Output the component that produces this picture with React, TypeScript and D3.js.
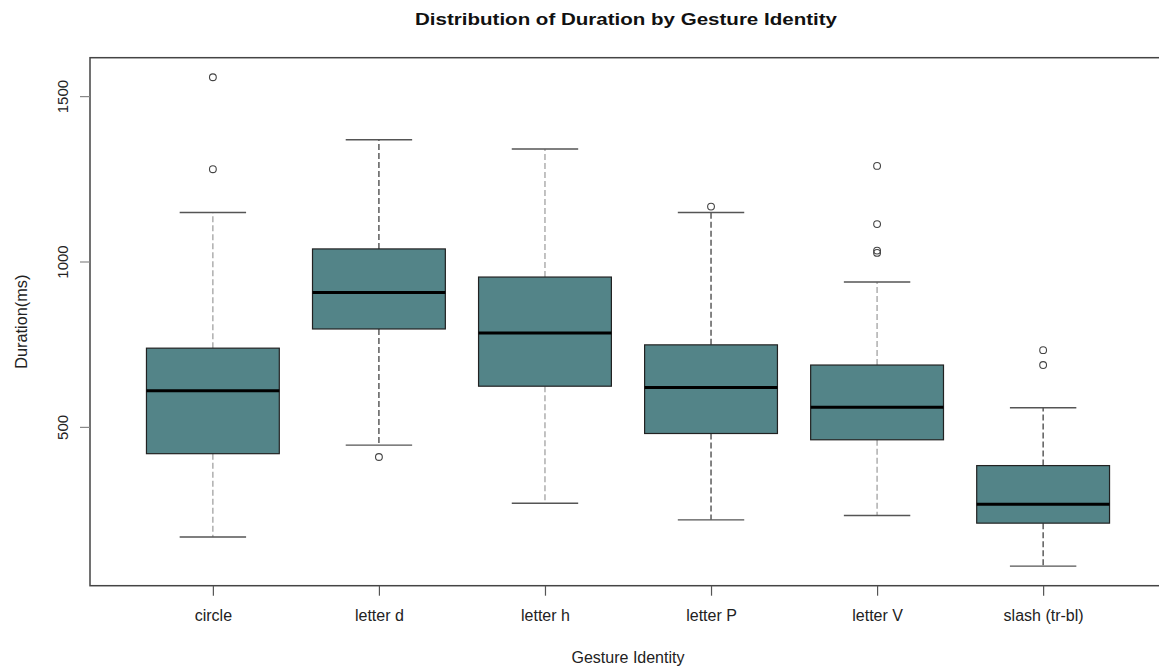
import { useEffect, useRef } from 'react'
import * as d3 from 'd3'

// box statistics (ms)
const categories = ['circle', 'letter d', 'letter h', 'letter P', 'letter V', 'slash (tr-bl)']
const lowerWhisker = [167, 445, 269, 219, 232, 79]
const q1 = [419, 796, 623, 480, 461, 209]
const median = [609, 906, 784, 619, 559, 266]
const q3 = [738, 1038, 953, 748, 687, 383]
const upperWhisker = [1148, 1368, 1340, 1148, 938, 558]
const outliers = [[1557, 1279], [409], [], [1166], [1289, 1113, 1033, 1026], [732, 687]]
const yTicks = [500, 1000, 1500]

const width = 1159
const height = 668

const BoxPlot = () => {
  const svgRef = useRef(null)

  useEffect(() => {
    const left = 90
    const right = 1166
    const top = 57.7
    const bottom = 585.7
    const font = 'Liberation Sans, Arial, sans-serif'

    // R style: data range extended by 4% on each side
    const all = [...lowerWhisker, ...upperWhisker, ...outliers.flat()]
    const lo = d3.min(all)
    const hi = d3.max(all)
    const pad = (hi - lo) * 0.04
    const yScale = d3.scaleLinear([lo - pad, hi + pad], [bottom, top])

    const n = categories.length
    const xScale = d3.scaleLinear([0.5 - n * 0.04, n + 0.5 + n * 0.04], [left, right])
    const halfW = xScale(1.4) - xScale(1)
    const capW = halfW / 2

    const svgEl = d3.select(svgRef.current)
    svgEl.selectAll('*').remove()

    const rows = categories.map((c, i) => ({
      c,
      i,
      x: xScale(i + 1),
      lw: lowerWhisker[i],
      q1: q1[i],
      med: median[i],
      q3: q3[i],
      uw: upperWhisker[i],
      out: outliers[i],
    }))

    const g = svgEl.append('g')

    // whiskers (dashed)
    const whiskers = rows.flatMap((d) => [
      { x: d.x, i: d.i, a: d.q3, b: d.uw },
      { x: d.x, i: d.i, a: d.q1, b: d.lw },
    ])
    g.selectAll('line.wh')
      .data(whiskers)
      .join('line')
      .attr('x1', (d) => d.x)
      .attr('x2', (d) => d.x)
      .attr('y1', (d) => yScale(d.a))
      .attr('y2', (d) => yScale(d.b))
      .attr('stroke', (d) => (d.i % 2 === 0 ? '#9a9a9a' : '#333'))
      .attr('stroke-width', 1.2)
      .attr('stroke-dasharray', '6,3')

    // whisker caps
    const caps = rows.flatMap((d) => [
      { x: d.x, v: d.uw },
      { x: d.x, v: d.lw },
    ])
    g.selectAll('line.cap')
      .data(caps)
      .join('line')
      .attr('x1', (d) => d.x - capW)
      .attr('x2', (d) => d.x + capW)
      .attr('y1', (d) => yScale(d.v))
      .attr('y2', (d) => yScale(d.v))
      .attr('stroke', '#555')
      .attr('stroke-width', 1.4)

    // boxes
    g.selectAll('rect.box')
      .data(rows)
      .join('rect')
      .attr('x', (d) => d.x - halfW)
      .attr('width', halfW * 2)
      .attr('y', (d) => yScale(d.q3))
      .attr('height', (d) => yScale(d.q1) - yScale(d.q3))
      .attr('fill', '#538488')
      .attr('stroke', '#222')
      .attr('stroke-width', 1.2)

    // medians
    g.selectAll('line.med')
      .data(rows)
      .join('line')
      .attr('x1', (d) => d.x - halfW)
      .attr('x2', (d) => d.x + halfW)
      .attr('y1', (d) => yScale(d.med))
      .attr('y2', (d) => yScale(d.med))
      .attr('stroke', '#000')
      .attr('stroke-width', 3)

    // outliers
    const pts = rows.flatMap((d) => d.out.map((v) => ({ x: d.x, v })))
    g.selectAll('circle.out')
      .data(pts)
      .join('circle')
      .attr('cx', (d) => d.x)
      .attr('cy', (d) => yScale(d.v))
      .attr('r', 3.4)
      .attr('fill', 'none')
      .attr('stroke', '#444')
      .attr('stroke-width', 1.1)

    // plot frame
    svgEl
      .append('rect')
      .attr('x', left)
      .attr('y', top)
      .attr('width', right - left)
      .attr('height', bottom - top)
      .attr('fill', 'none')
      .attr('stroke', '#444')
      .attr('stroke-width', 1.5)

    // y axis
    const yAxis = d3
      .axisLeft(yScale)
      .tickValues(yTicks)
      .tickFormat(d3.format('d'))
      .tickSize(10)
      .tickSizeOuter(0)
    svgEl
      .append('g')
      .attr('transform', `translate(${left},0)`)
      .call(yAxis)
      .call((a) => a.select('.domain').remove())
      .call((a) => a.selectAll('.tick line').attr('stroke', '#888').attr('stroke-width', 1.2))
      .call((a) =>
        a
          .selectAll('.tick text')
          .attr('transform', 'rotate(-90)')
          .attr('x', 0)
          .attr('y', -22)
          .attr('dy', 0)
          .attr('text-anchor', 'middle')
          .attr('fill', '#222')
          .style('font-family', font)
          .style('font-size', '15px')
      )

    // x axis
    const xAxis = d3
      .axisBottom(xScale)
      .tickValues(d3.range(1, n + 1))
      .tickFormat((d) => categories[d - 1])
      .tickSize(10)
      .tickSizeOuter(0)
      .tickPadding(14)
    svgEl
      .append('g')
      .attr('transform', `translate(0,${bottom})`)
      .call(xAxis)
      .call((a) => a.select('.domain').remove())
      .call((a) => a.selectAll('.tick line').attr('stroke', '#555').attr('stroke-width', 1.2))
      .call((a) =>
        a
          .selectAll('.tick text')
          .attr('fill', '#222')
          .style('font-family', font)
          .style('font-size', '16px')
      )

    // titles
    const cx = (left + right) / 2
    svgEl
      .append('text')
      .attr('x', cx - 2)
      .attr('y', 25)
      .attr('text-anchor', 'middle')
      .attr('textLength', 422)
      .attr('lengthAdjust', 'spacingAndGlyphs')
      .style('font-family', font)
      .style('font-weight', 'bold')
      .style('font-size', '17px')
      .attr('fill', '#111')
      .text('Distribution of Duration by Gesture Identity')
    svgEl
      .append('text')
      .attr('x', cx)
      .attr('y', 663)
      .attr('text-anchor', 'middle')
      .style('font-family', font)
      .style('font-size', '16px')
      .attr('fill', '#222')
      .text('Gesture Identity')
    svgEl
      .append('text')
      .attr('transform', `translate(27,${(top + bottom) / 2}) rotate(-90)`)
      .attr('text-anchor', 'middle')
      .attr('textLength', 94)
      .attr('lengthAdjust', 'spacingAndGlyphs')
      .style('font-family', font)
      .style('font-size', '16px')
      .attr('fill', '#222')
      .text('Duration(ms)')
  }, [])

  return (
    <svg
      ref={svgRef}
      width={width}
      height={height}
      style={{ position: 'absolute', left: 0, top: 0, background: '#fff' }}
    />
  )
}

export default function App() {
  return <BoxPlot />
}
